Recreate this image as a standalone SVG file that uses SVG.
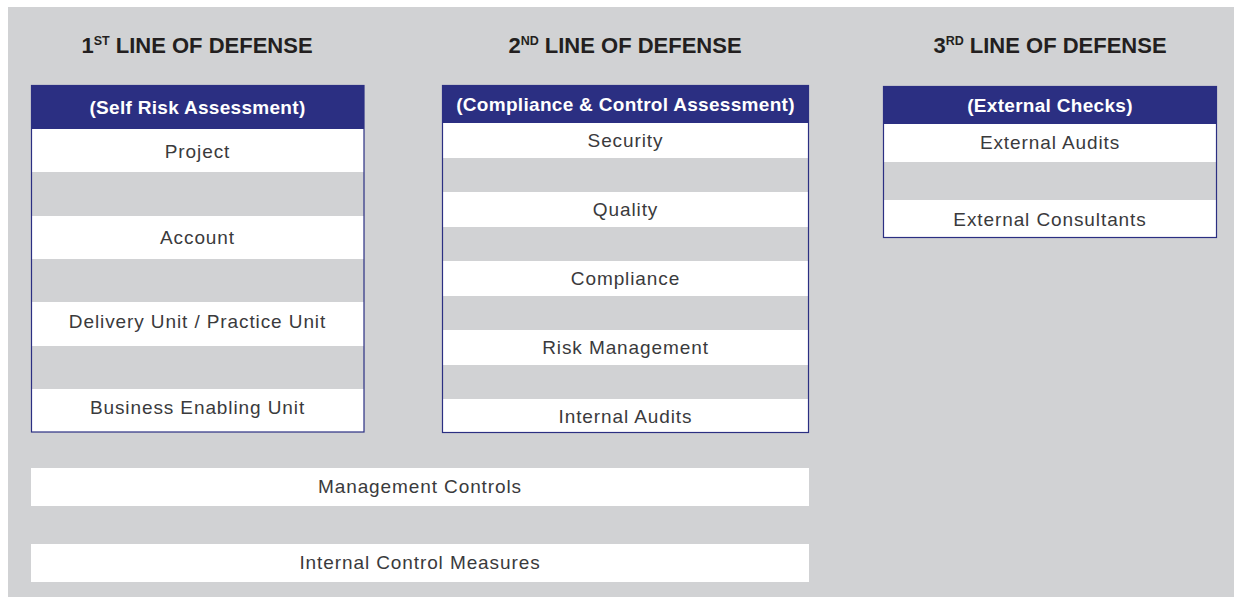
<svg xmlns="http://www.w3.org/2000/svg" width="1234" height="597" viewBox="0 0 1234 597">
<style>
.bg{fill:#d1d2d4}
.hdr{fill:#2b2f82}
.row{fill:#ffffff}
.frame{fill:none;stroke:#2b2f82;stroke-width:1.2}
.title{font-family:"Liberation Sans",Arial,sans-serif;font-weight:bold;font-size:22px;fill:#231f20;text-anchor:middle}
.sup{font-size:12.5px}
.htxt{font-family:"Liberation Sans",Arial,sans-serif;font-weight:bold;font-size:19px;letter-spacing:0.3px;fill:#ffffff;text-anchor:middle}
.txt{font-family:"Liberation Sans",Arial,sans-serif;font-size:19px;letter-spacing:0.9px;fill:#3a3a3c;text-anchor:middle}
</style>
<rect x="0" y="0" width="1234" height="597" fill="#ffffff"/>
<rect class="bg" x="8" y="7" width="1226" height="590"/>

<g id="title1"><text class="title" x="197" y="53">1<tspan class="sup" dy="-8">ST</tspan><tspan dy="8"> LINE OF DEFENSE</tspan></text></g>
<g id="title2"><text class="title" x="625" y="53">2<tspan class="sup" dy="-8">ND</tspan><tspan dy="8"> LINE OF DEFENSE</tspan></text></g>
<g id="title3"><text class="title" x="1050" y="53">3<tspan class="sup" dy="-8">RD</tspan><tspan dy="8"> LINE OF DEFENSE</tspan></text></g>

<g id="line1">
<rect class="hdr" x="31" y="85" width="333" height="44"/>
<text class="htxt" x="197.5" y="114">(Self Risk Assessment)</text>
<rect class="row" x="31" y="129" width="333" height="43"/>
<text class="txt" x="197.5" y="158">Project</text>
<rect class="row" x="31" y="216" width="333" height="43"/>
<text class="txt" x="197.5" y="244">Account</text>
<rect class="row" x="31" y="302" width="333" height="44"/>
<text class="txt" x="197.5" y="328">Delivery Unit / Practice Unit</text>
<rect class="row" x="31" y="389" width="333" height="43"/>
<text class="txt" x="197.5" y="414">Business Enabling Unit</text>
<rect class="frame" x="31.5" y="85.5" width="332.5" height="346.5"/>
</g>

<g id="line2">
<rect class="hdr" x="442" y="85" width="367" height="38"/>
<text class="htxt" x="625.5" y="111">(Compliance &amp; Control Assessment)</text>
<rect class="row" x="442" y="123" width="367" height="35"/>
<text class="txt" x="625.5" y="147">Security</text>
<rect class="row" x="442" y="192" width="367" height="35"/>
<text class="txt" x="625.5" y="216">Quality</text>
<rect class="row" x="442" y="261" width="367" height="35"/>
<text class="txt" x="625.5" y="285">Compliance</text>
<rect class="row" x="442" y="330" width="367" height="35"/>
<text class="txt" x="625.5" y="354">Risk Management</text>
<rect class="row" x="442" y="399" width="367" height="34"/>
<text class="txt" x="625.5" y="423">Internal Audits</text>
<rect class="frame" x="442.5" y="85.5" width="366" height="347"/>
</g>

<g id="line3">
<rect class="hdr" x="883" y="86" width="334" height="38"/>
<text class="htxt" x="1050" y="112">(External Checks)</text>
<rect class="row" x="883" y="124" width="334" height="38"/>
<text class="txt" x="1050" y="149">External Audits</text>
<rect class="row" x="883" y="200" width="334" height="38"/>
<text class="txt" x="1050" y="226">External Consultants</text>
<rect class="frame" x="883.5" y="86.5" width="333" height="151"/>
</g>

<g id="mgmt">
<rect class="row" x="31" y="468" width="778" height="38"/>
<text class="txt" x="420" y="493">Management Controls</text>
</g>
<g id="icm">
<rect class="row" x="31" y="544" width="778" height="38"/>
<text class="txt" x="420" y="569">Internal Control Measures</text>
</g>
<g id="connectors"></g>
</svg>
